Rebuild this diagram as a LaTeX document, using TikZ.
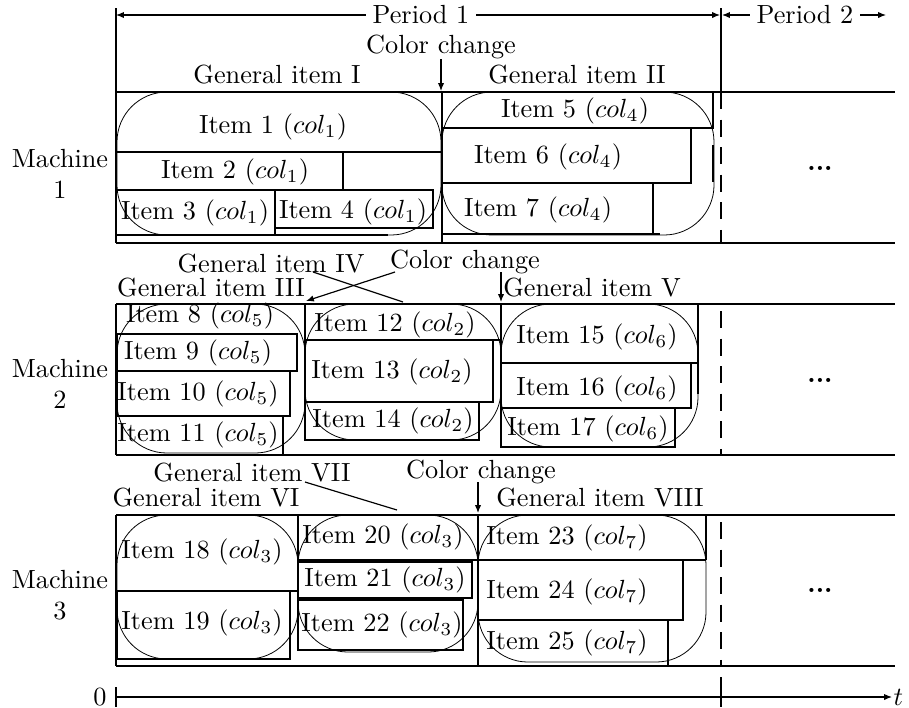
\documentclass[tikz,border=0pt]{standalone}
\usetikzlibrary{arrows.meta}
\begin{document}
\begin{tikzpicture}[x=0.381pt,y=-0.381pt,
  lbl/.style={inner sep=0pt, anchor=center},
  grp/.style={line width=0.3pt, rounded corners=19pt},
  itm/.style={line width=0.95pt},
  thinln/.style={line width=0.45pt},
  rowbot/.style={line width=0.9pt},
  rowleft/.style={line width=1.1pt},
  dsh/.style={line width=0.6pt, dash pattern=on 6.5pt off 4pt},
  arr/.style={line width=0.45pt, -{Latex[length=3pt,width=2.4pt]}},
  ]
\useasboundingbox (0,0) rectangle (909,707);

% ---------- top: periods ----------
\node[lbl, inner sep=2.5pt] (p1) at (421,15) {Period 1};
\node[lbl, inner sep=2.5pt] (p2) at (805,15) {Period 2};
\coordinate (p1l) at (116,15);
\coordinate (p1r) at (720,15);
\coordinate (p2l) at (722,15);
\coordinate (p2r) at (886,15);
\draw[arr] (p1.west) -- (p1l);
\draw[arr] (p1.east) -- (p1r);
\draw[arr] (p2.west) -- (p2l);
\draw[arr] (p2.east) -- (p2r);
\draw[thinln] (116,8) -- (116,92);
\draw[line width=0.6pt] (721,8) -- (721,92);

% ---------- Machine 1 ----------
\node[lbl, align=center] (m1) at (60,174) {Machine\\1};
\node[lbl] (cc1) at (441,47) {Color change};
\coordinate (cc1t) at (441,91);
\draw[arr] (cc1.south) -- (cc1t);
\node[lbl] (g1) at (277,75) {General item I};
\node[lbl] (g2) at (577,75) {General item II};

\draw[thinln] (116,92) -- (895,92);
\draw[rowbot] (116,243) -- (895,243);
\draw[rowleft] (116,92) -- (116,243);

\draw[grp] (117,92) rectangle (441,235);
\draw[grp] (442,92) rectangle (714,235);

\draw[itm] (116,152) -- (442,152);
\draw[itm] (116,190) -- (343,190) -- (343,152);
\draw[itm] (275,190) -- (275,235);
\draw[itm] (116,235) -- (388,235);
\draw[itm] (275,190) rectangle (433,228);
\draw[itm] (442,92) -- (442,243);
\draw[itm] (442,128) -- (713,128) -- (713,92);
\draw[itm] (442,183) -- (691,183) -- (691,128);
\draw[line width=0.7pt] (653,183) -- (653,234);
\draw[itm] (442,234) -- (660,234);
\draw[itm] (713,145) -- (713,182);

\node[lbl] (i1) at (273,127) {Item 1 ($col_1$)};
\node[lbl] (i2) at (235,172) {Item 2 ($col_1$)};
\node[lbl] (i3) at (195,213) {Item 3 ($col_1$)};
\node[lbl] (i4) at (353,212) {Item 4 ($col_1$)};
\node[lbl] (i5) at (575,111) {Item 5 ($col_4$)};
\node[lbl] (i6) at (548,157) {Item 6 ($col_4$)};
\node[lbl] (i7) at (538,210) {Item 7 ($col_4$)};

\draw[dsh] (721,92) -- (721,243);
\node[lbl] (d1) at (820,168) {\textbf{...}};

% ---------- Machine 2 ----------
\node[lbl, align=center] (m2) at (60,384) {Machine\\2};
\node[lbl] (g4) at (271,264) {General item IV};
\node[lbl] (cc2) at (465,262) {Color change};
\node[lbl] (g3) at (211,288) {General item III};
\node[lbl] (g5) at (592,288) {General item V};
\coordinate (g4s) at (313,272);
\coordinate (g4e) at (403,302);
\coordinate (cc2s) at (395,272);
\coordinate (cc2e) at (306,301);
\coordinate (cc2v) at (501,272);
\coordinate (cc2w) at (501,302);
\draw[thinln] (g4s) -- (g4e);
\draw[arr] (cc2s) -- (cc2e);
\draw[arr] (cc2v) -- (cc2w);

\draw[thinln] (116,304) -- (895,304);
\draw[rowbot] (116,455) -- (895,455);
\draw[rowleft] (116,304) -- (116,455);

\draw[grp] (117,304) rectangle (305,453);
\draw[grp] (305,304) rectangle (501,440);
\draw[grp] (501,304) rectangle (698,447);

\draw[itm] (117,334) rectangle (297,371);
\draw[itm] (117,371) rectangle (290,416);
\draw[itm] (283,416) -- (283,455);
\draw[itm] (305,304) -- (305,440);
\draw[itm] (305,340) -- (501,340);
\draw[itm] (305,340) rectangle (493,402);
\draw[itm] (305,402) rectangle (479,440);
\draw[line width=0.6pt] (501,304) -- (501,447);
\draw[itm] (501,363) -- (698,363);
\draw[itm] (698,304) -- (698,394);
\draw[itm] (501,363) rectangle (691,408);
\draw[itm] (501,408) rectangle (675,447);

\node[lbl] (i8) at (200,316) {Item 8 ($col_5$)};
\node[lbl] (i9) at (198,353) {Item 9 ($col_5$)};
\node[lbl] (i10) at (198,394) {Item 10 ($col_5$)};
\node[lbl] (i11) at (198,435) {Item 11 ($col_5$)};
\node[lbl] (i12) at (395,325) {Item 12 ($col_2$)};
\node[lbl] (i13) at (392,372) {Item 13 ($col_2$)};
\node[lbl] (i14) at (393,421) {Item 14 ($col_2$)};
\node[lbl] (i15) at (597,337) {Item 15 ($col_6$)};
\node[lbl] (i16) at (597,389) {Item 16 ($col_6$)};
\node[lbl] (i17) at (588,429) {Item 17 ($col_6$)};

\draw[dsh] (721,311) -- (721,455);
\node[lbl] (d2) at (820,380) {\textbf{...}};

% ---------- Machine 3 ----------
\node[lbl, align=center] (m3) at (60,595) {Machine\\3};
\node[lbl] (g7) at (252,473) {General item VII};
\node[lbl] (cc3) at (481,472) {Color change};
\node[lbl] (g6) at (206,498) {General item VI};
\node[lbl] (g8) at (600,498) {General item VIII};
\coordinate (g7s) at (305,482);
\coordinate (g7e) at (397,510);
\coordinate (cc3v) at (478,482);
\coordinate (cc3w) at (478,513);
\draw[thinln] (g7s) -- (g7e);
\draw[arr] (cc3v) -- (cc3w);

\draw[thinln] (116,515) -- (895,515);
\draw[rowbot] (116,666) -- (895,666);
\draw[rowleft] (116,515) -- (116,666);

\draw[grp] (117,515) rectangle (298,659);
\draw[grp] (298,515) rectangle (478,652);
\draw[grp] (478,515) rectangle (706,662);

\draw[itm] (117,591) -- (298,591);
\draw[itm] (117,591) rectangle (290,659);
\draw[itm] (298,515) -- (298,650);
\draw[itm] (298,560) -- (478,560);
\draw[itm] (298,562) rectangle (472,598);
\draw[itm] (298,600) rectangle (463,650);
\draw[line width=0.6pt] (478,515) -- (478,666);
\draw[line width=0.6pt] (706,515) -- (706,560);
\draw[itm] (478,560) -- (706,560);
\draw[itm] (478,560) rectangle (683,620);
\draw[itm] (668,620) -- (668,666);

\node[lbl] (i18) at (202,552) {Item 18 ($col_3$)};
\node[lbl] (i19) at (202,623) {Item 19 ($col_3$)};
\node[lbl] (i20) at (383,537) {Item 20 ($col_3$)};
\node[lbl] (i21) at (385,580) {Item 21 ($col_3$)};
\node[lbl] (i22) at (382,625) {Item 22 ($col_3$)};
\node[lbl] (i23) at (567,538) {Item 23 ($col_7$)};
\node[lbl] (i24) at (567,592) {Item 24 ($col_7$)};
\node[lbl] (i25) at (567,643) {Item 25 ($col_7$)};

\draw[dsh] (721,522) -- (721,666);
\node[lbl] (d3) at (820,590) {\textbf{...}};

% ---------- time axis ----------
\node[lbl] (zero) at (100,697) {0};
\node[lbl, anchor=west] (tlab) at (893,697) {$t$};
\coordinate (ax0) at (116,697);
\coordinate (ax1) at (892,697);
\draw[arr] (ax0) -- (ax1);
\draw[thinln] (116,687) -- (116,707);
\draw[line width=0.6pt] (721,677) -- (721,707);
\end{tikzpicture}
\end{document}
